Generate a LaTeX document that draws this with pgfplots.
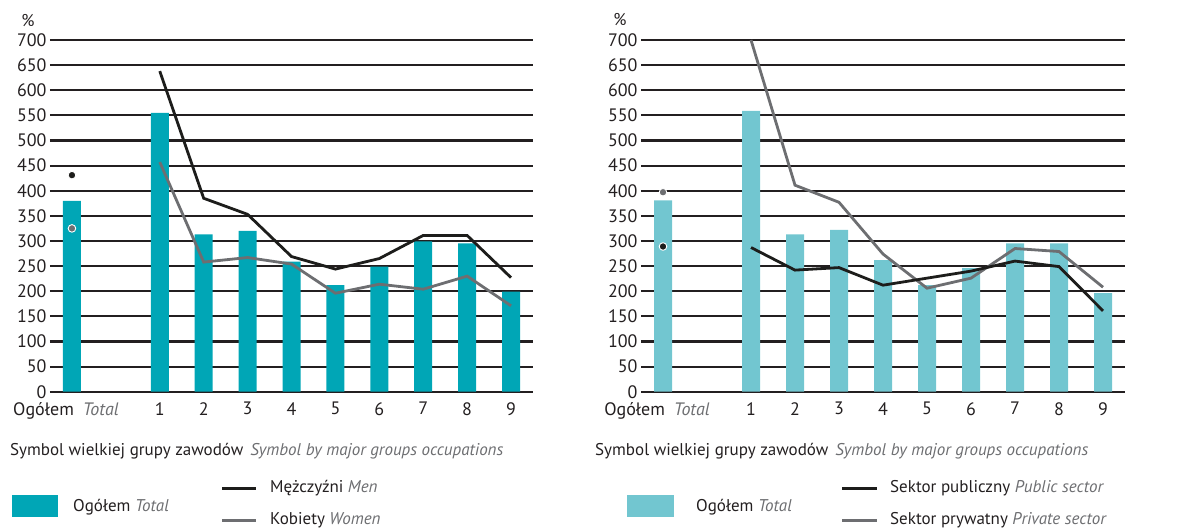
\documentclass[border=0pt]{standalone}
\usepackage{fontspec}
\setmainfont{PT Sans}
\usepackage{pgfplots}
\pgfplotsset{compat=1.18}
\usepackage{pgfplotstable}
\definecolor{barA}{HTML}{00A6B6}
\definecolor{barB}{HTML}{72C6D0}
\definecolor{lineblack}{HTML}{1D1D1B}
\definecolor{linegray}{HTML}{6D6E71}
\definecolor{txt}{HTML}{231F20}
\definecolor{eng}{HTML}{6D6E71}

\pgfplotstableread{
x total
-1 380
1 555
2 313
3 320
4 259
5 212
6 249
7 299
8 295
9 199
}\leftbars
\pgfplotstableread{
x men women
1 638 457
2 385 258
3 353 267
4 269 254
5 244 196
6 265 214
7 311 204
8 311 230
9 227 171
}\leftlines
\pgfplotstableread{
x total
-1 381
1 559
2 313
3 322
4 262
5 212
6 246
7 295
8 295
9 196
}\rightbars
\pgfplotstableread{
x public private
1 287 700
2 242 411
3 247 377
4 212 274
5 226 206
6 240 226
7 260 285
8 249 279
9 161 208
}\rightlines

\newcommand{\fs}{\fontsize{17}{19}\selectfont}
\newcommand{\ft}{\fontsize{18}{20}\selectfont}
\pgfplotsset{mystyle/.style={
  scale only axis, width=483pt, height=351.7pt,
  xmin=-1.5, xmax=9.5, ymin=0, ymax=700,
  ytick={0,50,...,700},
  xtick={-1,1,2,3,4,5,6,7,8,9},
  xticklabels={{\hspace*{-12pt}Ogółem\hspace{9pt}\textit{\textcolor{eng}{Total}}},1,2,3,4,5,6,7,8,9},
  ymajorgrids, grid style={line width=2.1pt, color=txt},
  axis line style={draw=none}, major tick style={draw=none},
  tick label style={font=\ft, text=txt},
  yticklabel style={xshift=0pt},
  xticklabel style={yshift=-7pt},
  /pgf/number format/assume math mode=true,
  clip=false, anchor=south west}}

\begin{document}
\begin{tikzpicture}[x=1pt,y=1pt]
\useasboundingbox (0,0) rectangle (1178,531);
% left chart
\begin{axis}[mystyle, at={(50pt,139.3pt)}]
\addplot[ybar, bar width=18pt, fill=barA, draw=none] table[x=x,y=total]{\leftbars};
\addplot[line width=2.8pt, color=linegray] table[x=x,y=women]{\leftlines};
\addplot[line width=2.8pt, color=lineblack] table[x=x,y=men]{\leftlines};
\addplot[only marks, mark=*, mark size=3.8pt, mark options={fill=lineblack, draw=white, line width=0.9pt}] coordinates {(-1,431)};
\addplot[only marks, mark=*, mark size=3.8pt, mark options={fill=linegray, draw=white, line width=0.9pt}] coordinates {(-1,325)};
\end{axis}
% right chart
\begin{axis}[mystyle, at={(641pt,139.3pt)}, width=484pt]
\addplot[ybar, bar width=18pt, fill=barB, draw=none] table[x=x,y=total]{\rightbars};
\addplot[line width=2.8pt, color=linegray] table[x=x,y=private]{\rightlines};
\addplot[line width=2.8pt, color=lineblack] table[x=x,y=public]{\rightlines};
\addplot[only marks, mark=*, mark size=3.8pt, mark options={fill=linegray, draw=white, line width=0.9pt}] coordinates {(-1,397)};
\addplot[only marks, mark=*, mark size=3.8pt, mark options={fill=lineblack, draw=white, line width=0.9pt}] coordinates {(-1,289)};
\end{axis}
% % labels
\node[text=txt, font=\fs] at (28,510) {\%};
\node[text=txt, font=\fs] at (620,511) {\%};
% titles
\node[anchor=west, inner sep=0pt, text=txt, font=\fs] at (10,80) {Symbol wielkiej grupy zawodów\hspace{7pt}\textit{\textcolor{eng}{Symbol by major groups occupations}}};
\node[anchor=west, inner sep=0pt, text=txt, font=\fs] at (595,80) {Symbol wielkiej grupy zawodów\hspace{7pt}\textit{\textcolor{eng}{Symbol by major groups occupations}}};
% legends left
\fill[barA] (12,14) rectangle (58,36);
\node[anchor=west, inner sep=0pt, text=txt, font=\fs] at (73,24) {Ogółem \textit{\textcolor{eng}{Total}}};
\draw[lineblack, line width=3pt] (222,43) -- (256,43);
\node[anchor=west, inner sep=0pt, text=txt, font=\fs] at (270,43) {Mężczyźni \textit{\textcolor{eng}{Men}}};
\draw[linegray, line width=3pt] (222,11) -- (256,11);
\node[anchor=west, inner sep=0pt, text=txt, font=\fs] at (270,11) {Kobiety \textit{\textcolor{eng}{Women}}};
% legends right
\fill[barB] (627,14) rectangle (674,36);
\node[anchor=west, inner sep=0pt, text=txt, font=\fs] at (696,24) {Ogółem \textit{\textcolor{eng}{Total}}};
\draw[lineblack, line width=3pt] (842,43) -- (877,43);
\node[anchor=west, inner sep=0pt, text=txt, font=\fs] at (890,43) {Sektor publiczny \textit{\textcolor{eng}{Public sector}}};
\draw[linegray, line width=3pt] (842,11) -- (877,11);
\node[anchor=west, inner sep=0pt, text=txt, font=\fs] at (890,11) {Sektor prywatny \textit{\textcolor{eng}{Private sector}}};
\end{tikzpicture}
\end{document}
